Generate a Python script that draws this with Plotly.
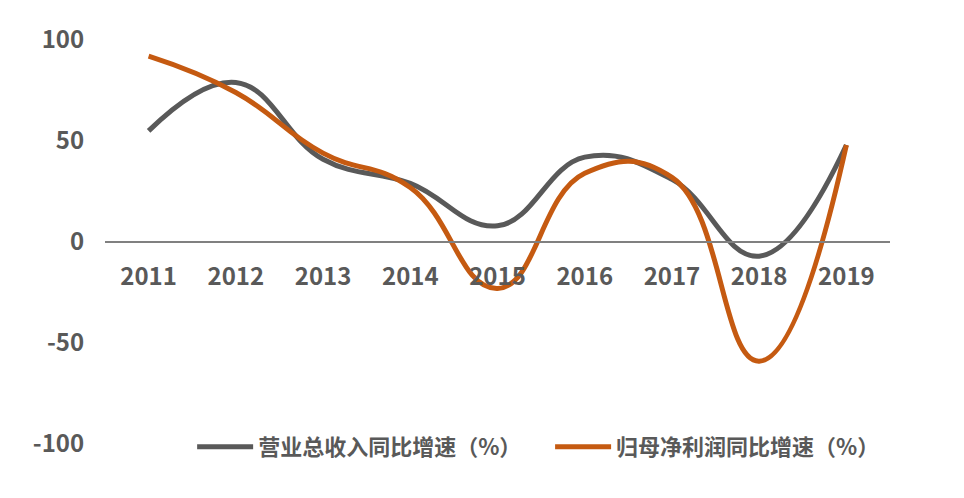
import plotly.graph_objects as go

years = ["2011", "2012", "2013", "2014", "2015", "2016", "2017", "2018", "2019"]
revenue_growth = [55, 79, 41, 29, 8, 42, 31, -7, 48]
profit_growth = [92, 74, 44, 27, -23, 34, 32, -59, 48]
series_names = ["营业总收入同比增速（%）", "归母净利润同比增速（%）"]
y_ticks = [100, 50, 0, -50, -100]
y_tick_text = ["100", "50", "0", "-50", "-100"]

gray = "#595959"
orange = "#C55A11"
font_family = "Noto Sans CJK SC, Microsoft YaHei, sans-serif"

fig = go.Figure()
fig.add_trace(go.Scatter(x=years, y=revenue_growth, name=series_names[0], mode="lines",
                         line=dict(color=gray, width=5, shape="spline", smoothing=1.2),
                         legend="legend"))
fig.add_trace(go.Scatter(x=years, y=profit_growth, name=series_names[1], mode="lines",
                         line=dict(color=orange, width=5, shape="spline", smoothing=1.3),
                         legend="legend2"))

legend_font = dict(size=22, color=gray, family=font_family, weight="bold")
tick_font = dict(size=24, color=gray, family=font_family, weight="bold")
fig.update_layout(
    width=964, height=498,
    margin=dict(l=97, r=82, t=32, b=62, autoexpand=False),
    plot_bgcolor="white", paper_bgcolor="white",
    font=dict(family=font_family, color=gray),
    showlegend=True,
    legend=dict(orientation="h", x=0.111, xanchor="left", y=-0.007, yanchor="middle",
                font=legend_font, itemwidth=56, bgcolor="rgba(0,0,0,0)"),
    legend2=dict(orientation="h", x=0.567, xanchor="left", y=-0.007, yanchor="middle",
                 font=legend_font, itemwidth=56, bgcolor="rgba(0,0,0,0)"),
    xaxis=dict(type="category", range=[-0.5, 8.5], anchor="free", position=0.5,
               showline=True, linecolor="#808080", linewidth=1.5, showgrid=False,
               zeroline=False, ticks="outside", ticklen=13, tickcolor="rgba(0,0,0,0)",
               tickfont=tick_font),
    yaxis=dict(range=[-100, 100], tickvals=y_ticks, ticktext=y_tick_text, showgrid=False,
               zeroline=False, showline=False, ticks="outside", ticklen=15,
               tickcolor="rgba(0,0,0,0)", tickfont=tick_font),
)

fig.write_html("out.html")
